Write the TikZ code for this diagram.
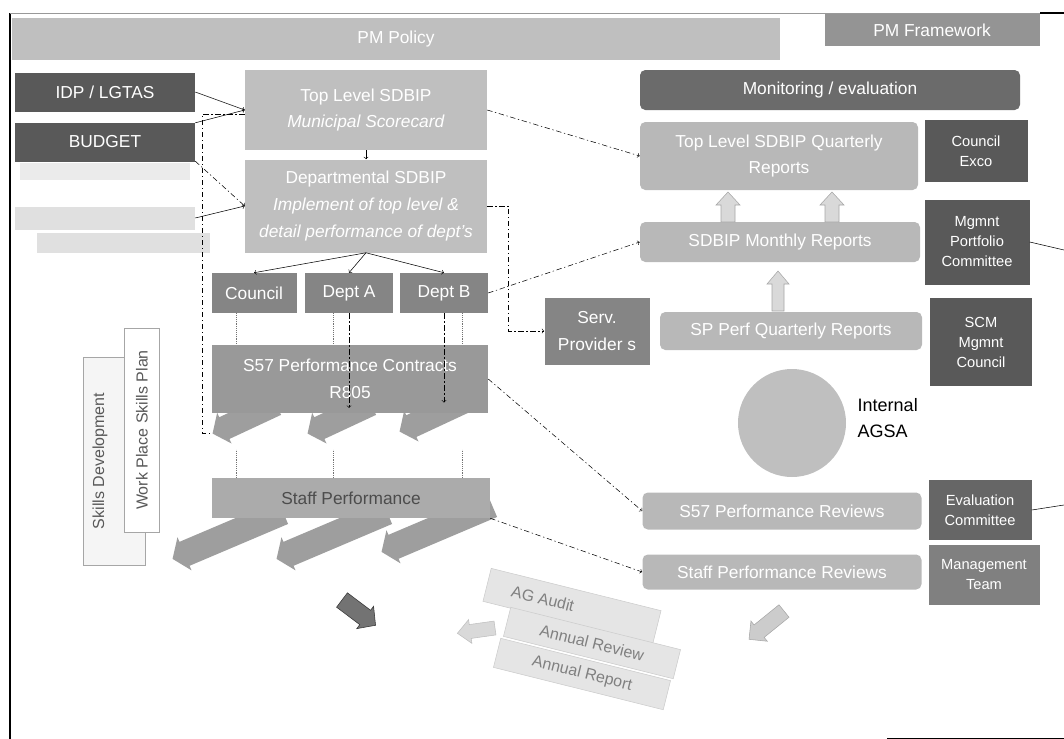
\documentclass[tikz,border=0pt]{standalone}
\usepackage{fontspec}
\setmainfont{Liberation Sans}

\tikzset{
  wh/.style 2 args={minimum width=#1*0.75pt, minimum height=#2*0.75pt},
  box/.style={rectangle, inner sep=1pt, align=center, text=white, font=\fontsize{13}{20}\selectfont},
  lightbox/.style={box, fill=black!25},
  midbox/.style={box, fill=black!48},
  darkbox/.style={box, fill=black!65},
  sidebox/.style={darkbox, font=\fontsize{11}{15}\selectfont},
  report/.style={lightbox, fill=black!28, rounded corners=4pt},
  stackbox/.style={box, fill=black!10, draw=black!20, text=black!50, rotate=-14, font=\fontsize{12}{14}\selectfont},
  dashdot/.style={->, dash pattern=on 4pt off 2pt on 1pt off 2pt},
  dotline/.style={densely dotted, black!55},
  pics/slant/.style 2 args={code={
    \path[pic actions] (0,-#2) -- (#1-13,-#2) -- (#1-13,-#2-5) -- (#1,0)
      -- (#1-13,#2+5) -- (#1-13,#2) -- (0,#2) -- cycle;
    \coordinate (-tip) at (#1,0);}},
}

\begin{document}
\begin{tikzpicture}[x=0.75pt,y=-0.75pt]
\useasboundingbox (0,0) rectangle (1064,739);

% frame
\draw[line width=1.5pt] (10,13) -- (10,739);
\draw[black!40] (10,13) -- (1064,13);
\draw[line width=1pt] (1040,13) -- (1064,13);
\draw (887,738) -- (1064,738);

% policy level
\node[lightbox, wh={768}{42}] (policy) at (396,39) {PM Policy};
\node[midbox, fill=black!42, wh={215}{32}] (frame) at (932,30) {PM Framework};

% inputs
\node[darkbox, wh={180}{39}] (idp) at (105,92) {IDP / LGTAS};
\node[darkbox, wh={180}{39}] (budget) at (105,142) {BUDGET};
\fill[black!8] (20,163) rectangle (190,180);
\node[box, fill=black!12, wh={180}{23}] (extra) at (105,218) {};
\node[box, fill=black!12, wh={173}{20}] (extrab) at (123,243) {};

% SDBIP column
\node[lightbox, wh={242}{80}] (toplvl) at (366,110) {Top Level SDBIP\\\textit{Municipal Scorecard}};
\node[lightbox, wh={242}{93}] (dept) at (366,206) {Departmental SDBIP\\\textit{Implement of top level \&}\\\textit{detail performance of dept's}};
\node[midbox, wh={85}{40}] (council) at (254,293) {Council};
\node[midbox, wh={88}{40}] (depta) at (349,293) {Dept A};
\node[midbox, wh={88}{40}] (deptb) at (444,293) {Dept B};

% slanted arrows under the contracts and staff boxes
\pic (ca) [rotate=205, fill=black!38] at (276,404) {slant={70}{12}};
\pic (cb) [rotate=205, fill=black!38] at (371,404) {slant={70}{12}};
\pic (cc) [rotate=205, fill=black!38] at (463,402) {slant={70}{12}};
\pic (sa) [rotate=203, fill=black!38] at (283,512) {slant={120}{13}};
\pic (sb) [rotate=203, fill=black!38] at (387,512) {slant={120}{13}};
\pic (sc) [rotate=203, fill=black!38] at (492,505) {slant={120}{13}};

\node[midbox, fill=black!40, wh={276}{68}] (contract) at (350,379) {S57 Performance Contracts\\R805};
\node[lightbox, fill=black!33, text=black!70, wh={278}{40}] (staff) at (351,498) {Staff Performance};

% skills
\node[draw=black!35, fill=black!4, wh={62}{208}] (skills) at (114,461) {};
\node[rotate=90, text=black!65, font=\fontsize{12}{14}\selectfont] (skillstxt) at (100,461) {Skills Development};
\node[draw=black!35, fill=white, rotate=90, wh={204}{35}, text=black!65, font=\fontsize{12}{14}\selectfont] (wpsp) at (142,430) {Work Place Skills Plan};

% left connectors
\draw[->] (idp.east) -- (toplvl.west);
\draw[->] (budget.12) -- (toplvl.west);
\draw[dashdot] (budget.-12) -- (dept.west);
\draw[->] (extra.east) -- (dept.west);
\draw[->] (toplvl.south) -- (dept.north);
\draw[->] (dept.south) -- (council.north);
\draw[->] (dept.south) -- (depta.north);
\draw[->] (dept.south) -- (deptb.north);
\draw[dash pattern=on 4pt off 2pt on 1pt off 2pt] ([yshift=-3pt]toplvl.west) -- ++(-42,0) |- (ca-tip);
\draw[dashdot, shorten >=4pt] (depta.south) -- (depta.south |- contract.south);
\draw[dashdot, shorten >=8pt] (deptb.south) -- (deptb.south |- contract.south);

% faint dotted guides
\coordinate (dl1) at (236,0);
\coordinate (dl2) at (333,0);
\coordinate (dl3) at (462,0);
\foreach \c in {dl1,dl2,dl3} {
  \draw[dotline] (council.south -| \c) -- (contract.north -| \c);
  \draw[dotline] (staff.north -| \c) -- ++(0,-28);
}

% right column
\node[darkbox, fill=black!58, rounded corners=4pt, wh={380}{40}] (monitor) at (830,90) {Monitoring / evaluation};
\node[report, wh={278}{68}] (tlq) at (779,156) {Top Level SDBIP Quarterly\\Reports};
\node[sidebox, wh={103}{62}] (exco) at (976,151) {Council\\Exco};
\node[report, wh={280}{40}] (monthly) at (780,242) {SDBIP Monthly Reports};
\node[sidebox, wh={105}{85}] (mpc) at (977,242) {Mgmnt\\Portfolio\\Committee};
\node[midbox, wh={105}{67}] (serv) at (597,331) {Serv.\\Provider s};
\node[report, wh={262}{38}] (spq) at (791,331) {SP Perf Quarterly Reports};
\node[sidebox, wh={102}{88}] (scm) at (981,342) {SCM\\Mgmnt\\Council};
\node[circle, fill=black!25, minimum size=108*0.75pt] (audit) at (792,423) {};
\node[anchor=west, align=left, font=\fontsize{13.5}{20}\selectfont] (agsa) at (853,418) {Internal\\AGSA};
\node[report, wh={279}{37}] (s57rev) at (782,511) {S57 Performance Reviews};
\node[sidebox, fill=black!60, wh={103}{60}] (evalc) at (980,510) {Evaluation\\Committee};
\node[report, wh={279}{35}] (staffrev) at (782,572) {Staff Performance Reviews};
\node[sidebox, fill=black!50, wh={111}{60}] (mgmt) at (984,575) {Management\\Team};

% report arrows
\pic[rotate=90, fill=black!15, draw=black!35] at (728,222) {slant={30}{7}};
\pic[rotate=90, fill=black!15, draw=black!35] at (832,222) {slant={30}{7}};
\pic[rotate=90, fill=black!15, draw=black!35] at (778,311) {slant={40}{6}};

\coordinate (offa) at (1064,250);
\coordinate (offb) at (1064,505);
\draw (mpc.east) -- (offa);
\draw (evalc.east) -- (offb);

% dash-dot links
\draw[dashdot] (toplvl.east) -- (tlq.west);
\draw[dashdot] (deptb.east) -- (monthly.west);
\draw[dashdot] (dept.east) -- ++(21,0) |- (serv.west);
\draw[dashdot] (contract.east) -- (s57rev.west);
\draw[dashdot] (staff.south east) -- (staffrev.west);

% annual cycle
\pic[rotate=-37, fill=black!55, draw=black!80] at (342,600) {slant={42}{9}};
\pic[rotate=188, fill=black!15, draw=black!25] at (495,628) {slant={38}{7}};
\pic[rotate=219, fill=black!20, draw=black!35] at (784,611) {slant={45}{8}};
\node[stackbox, wh={175}{34}] (agaudit) at (572,606) {AG Audit\hspace{45pt}};
\node[stackbox, wh={175}{30}] (review) at (592,643) {Annual Review};
\node[stackbox, wh={175}{30}] (annual) at (582,674) {Annual Report};
\end{tikzpicture}
\end{document}
